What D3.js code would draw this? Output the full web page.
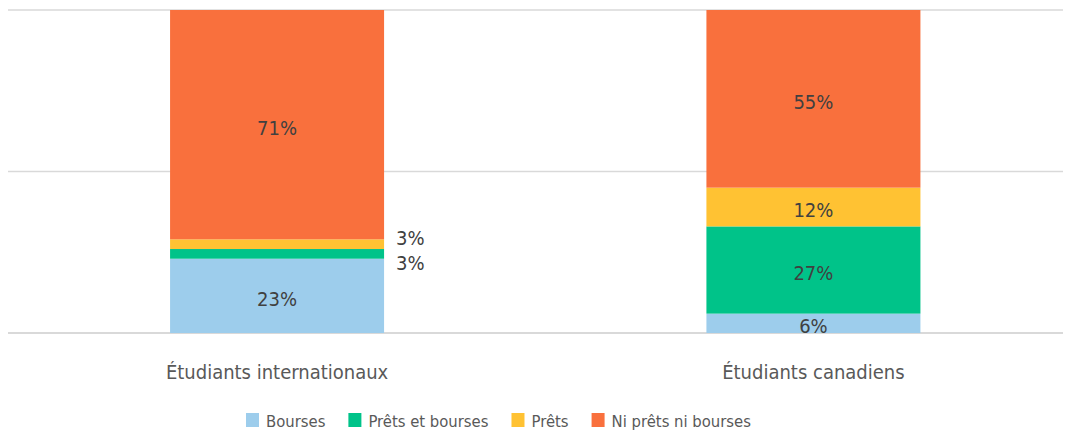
<!DOCTYPE html>
<html>
<head>
<meta charset="utf-8">
<script src="https://cdn.jsdelivr.net/npm/d3@7"></script>
<style>
  html, body { margin: 0; padding: 0; background: #fff; }
  svg { display: block; }
  text { font-family: "DejaVu Sans Condensed", "DejaVu Sans", sans-serif; font-stretch: condensed; }
</style>
</head>
<body>
<svg id="chart" width="1071" height="434"></svg>
<script>
// Funding sources by student group (percent of students)
const categories = ["Étudiants internationaux", "Étudiants canadiens"];
const seriesNames = ["Bourses", "Prêts et bourses", "Prêts", "Ni prêts ni bourses"];
const colors = ["#9DCDEC", "#00C389", "#FFC233", "#F9703D"];
const bourses = [23, 6];
const pretsEtBourses = [3, 27];
const prets = [3, 12];
const niPretsNiBourses = [71, 55];
const gridTicks = [0, 50, 100];

const seriesValues = [bourses, pretsEtBourses, prets, niPretsNiBourses];
const rows = categories.map((c, i) => {
  const r = { category: c };
  seriesNames.forEach((s, k) => r[s] = seriesValues[k][i]);
  return r;
});

const svg = d3.select("#chart");
const margin = { left: 8, right: 8, top: 10, bottom: 101 };
const W = 1071, H = 434;

const x = d3.scaleBand()
  .domain(categories)
  .range([margin.left, W - margin.right])
  .paddingInner(0.601)
  .paddingOuter(0.284)
  .align(0.532);

const y = d3.scaleLinear().domain([0, 100]).range([H - margin.bottom, margin.top]);

// gridlines
svg.append("g")
  .selectAll("line")
  .data(gridTicks)
  .join("line")
  .attr("x1", margin.left)
  .attr("x2", W - margin.right)
  .attr("y1", d => y(d))
  .attr("y2", d => y(d))
  .attr("stroke", "#d9d9d9")
  .attr("stroke-width", d => d === 0 ? 2 : 1.3);

const stack = d3.stack().keys(seriesNames);
const stacked = stack(rows);

const layers = svg.append("g")
  .selectAll("g")
  .data(stacked)
  .join("g")
  .attr("fill", (d, i) => colors[i]);

layers.selectAll("rect")
  .data(d => d)
  .join("rect")
  .attr("x", d => x(d.data.category))
  .attr("width", x.bandwidth())
  .attr("y", d => y(d[1]))
  .attr("height", d => y(d[0]) - y(d[1]));

// value labels: inside for large segments, to the right for thin ones
const labelG = svg.append("g")
  .attr("font-size", 20)
  .attr("fill", "#404040");

stacked.forEach((layer, k) => {
  layer.forEach((d, i) => {
    const v = d[1] - d[0];
    const mid = (y(d[0]) + y(d[1])) / 2;
    if (v >= 5) {
      labelG.append("text")
        .attr("x", x(d.data.category) + x.bandwidth() / 2)
        .attr("y", mid)
        .attr("dy", "0.5em")
        .attr("text-anchor", "middle")
        .text(v + "%");
    } else {
      // thin segments: spread the outside labels apart vertically
      const shift = seriesNames[k] === "Prêts" ? -6 : 9;
      labelG.append("text")
        .attr("x", x(d.data.category) + x.bandwidth() + 12)
        .attr("y", mid + shift)
        .attr("dy", "0.36em")
        .attr("text-anchor", "start")
        .text(v + "%");
    }
  });
});

// category axis labels
svg.append("g")
  .selectAll("text")
  .data(categories)
  .join("text")
  .attr("x", d => x(d) + x.bandwidth() / 2)
  .attr("y", 379)
  .attr("text-anchor", "middle")
  .attr("font-size", 20)
  .attr("fill", "#595959")
  .text(d => d);

// legend, laid out left to right from measured text widths
const legend = svg.append("g").attr("font-size", 16.5).attr("fill", "#595959");
let lx = 246;
seriesNames.forEach((s, i) => {
  const g = legend.append("g").attr("transform", `translate(${lx},0)`);
  g.append("rect").attr("x", 0).attr("y", 413).attr("width", 13).attr("height", 14).attr("fill", colors[i]);
  const t = g.append("text").attr("x", 20).attr("y", 427).text(s);
  lx += 20 + t.node().getComputedTextLength() + 23;
});
</script>
</body>
</html>
